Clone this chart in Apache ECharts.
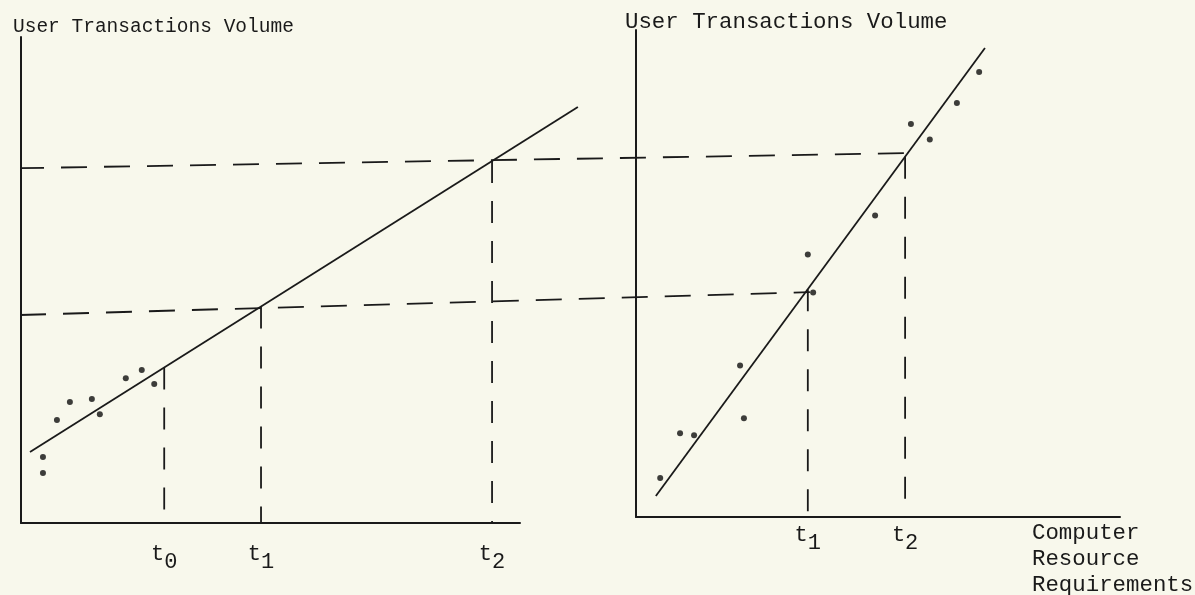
<!DOCTYPE html>
<html>
<head>
<meta charset="utf-8">
<title>User Transactions Volume vs Computer Resource Requirements</title>
<script src="https://cdn.jsdelivr.net/npm/echarts@6/dist/echarts.min.js"></script>
<style>
  html, body { margin: 0; padding: 0; background: #f8f8ec; }
  #chart { width: 1195px; height: 595px; }
</style>
</head>
<body>
<div id="chart"></div>
<script>
// Left panel: transactions volume over time (abstract units, 0-100 on the drawn axes)
const leftFitLine = [[1.8, 14.6], [111.6, 85.6]];
const leftObservations = [
  [4.4, 13.6], [4.4, 10.3], [7.2, 21.2], [9.8, 24.9], [14.2, 25.5],
  [15.8, 22.4], [21.0, 29.8], [24.2, 31.5], [26.7, 28.6]
];
const leftTimes = [28.7, 48.1, 94.4];
const leftTimeSubs = ['0', '1', '2'];

// Right panel: transactions volume vs computer resource requirements
const rightFitLine = [[4.1, 4.3], [72.1, 96.3]];
const rightObservations = [
  [5.0, 8.0], [9.1, 17.2], [12.0, 16.8], [21.5, 31.1], [22.3, 20.3],
  [35.5, 53.9], [36.6, 46.1], [49.4, 61.9], [56.8, 80.7], [60.7, 77.5],
  [66.3, 85.0], [70.9, 91.4]
];
const rightTimes = [35.5, 55.6];
const rightTimeSubs = ['1', '2'];

// Projection guides carried from the left panel across to the right one (left-panel units)
const upperGuide = [[-0.6, 73.0], [177.2, 76.1]];
const lowerGuide = [[-0.2, 42.8], [158.1, 47.5]];

const INK = '#1a1a1a';
const FONT = '"Liberation Mono", "DejaVu Sans Mono", monospace';
const DASH_H = [26, 17];
const DASH_V = [22, 18];

// Left panel geometry: the overlay grid shares its scale so long lines can run past the axis end
const LEFT_X0 = 21, LEFT_TOP = 37, LEFT_H = 486, LEFT_W = 499;
const OVERLAY_W = 1099;
const OVERLAY_MAX = 100 * OVERLAY_W / LEFT_W;

function fitAt(line, x) {
  const [[x0, y0], [x1, y1]] = line;
  return y0 + (y1 - y0) * (x - x0) / (x1 - x0);
}

function subLabel(times, subs) {
  return function (v) {
    let best = 0;
    times.forEach((t, i) => { if (Math.abs(t - v) < Math.abs(times[best] - v)) best = i; });
    return '{t|t}{s|' + subs[best] + '}';
  };
}

const labelRich = {
  t: { fontFamily: FONT, fontSize: 22, color: INK, verticalAlign: 'top', lineHeight: 30 },
  s: { fontFamily: FONT, fontSize: 22, color: INK, verticalAlign: 'bottom', lineHeight: 30, padding: [12, 0, 0, 0] }
};

function makeX(gridIndex, times, subs, margin) {
  return {
    type: 'value', gridIndex, min: 0, max: 100,
    axisLine: { show: true, onZero: false, lineStyle: { color: INK, width: 2 } },
    axisTick: { show: false },
    splitLine: { show: false },
    axisLabel: {
      show: true, customValues: times, margin,
      formatter: subLabel(times, subs), rich: labelRich
    }
  };
}

function makeY(gridIndex) {
  return {
    type: 'value', gridIndex, min: 0, max: 100,
    axisLine: { show: true, onZero: false, lineStyle: { color: INK, width: 2 } },
    axisTick: { show: false },
    axisLabel: { show: false },
    splitLine: { show: false }
  };
}

function hiddenAxis(gridIndex, max) {
  return {
    type: 'value', gridIndex, min: 0, max,
    show: false, axisLine: { show: false }, splitLine: { show: false }
  };
}

function solid(data, idx) {
  return {
    type: 'line', data, xAxisIndex: idx, yAxisIndex: idx, symbol: 'none',
    clip: false, silent: true, animation: false,
    lineStyle: { color: INK, width: 1.8 }
  };
}

function dashed(data, idx, dash) {
  return {
    type: 'line', data, xAxisIndex: idx, yAxisIndex: idx, symbol: 'none',
    clip: false, silent: true, animation: false,
    lineStyle: { color: INK, width: 1.8, type: dash }
  };
}

function dots(data, idx) {
  return {
    type: 'scatter', data, xAxisIndex: idx, yAxisIndex: idx,
    symbol: 'circle', symbolSize: 6, silent: true, animation: false,
    itemStyle: { color: '#0e0e0e' }
  };
}

const series = [
  solid(leftFitLine, 2),
  dots(leftObservations, 0),
  dashed(upperGuide, 2, DASH_H),
  dashed(lowerGuide, 2, DASH_H),
  solid(rightFitLine, 1),
  dots(rightObservations, 1)
];
leftTimes.forEach(t => series.push(dashed([[t, fitAt(leftFitLine, t)], [t, 0]], 0, DASH_V)));
rightTimes.forEach(t => series.push(dashed([[t, fitAt(rightFitLine, t)], [t, 0]], 1, DASH_V)));

const chart = echarts.init(document.getElementById('chart'), null, { renderer: 'canvas' });
chart.setOption({
  backgroundColor: '#f8f8ec',
  animation: false,
  title: [
    { text: 'User Transactions Volume', left: 8, top: 12,
      textStyle: { fontFamily: FONT, fontSize: 19.5, fontWeight: 'normal', color: INK } },
    { text: 'User Transactions Volume', left: 620, top: 6,
      textStyle: { fontFamily: FONT, fontSize: 22.4, fontWeight: 'normal', color: INK } },
    { text: 'Computer\nResource\nRequirements', left: 1027, top: 515,
      textStyle: { fontFamily: FONT, fontSize: 22.4, fontWeight: 'normal', color: INK, lineHeight: 26 } }
  ],
  grid: [
    { left: LEFT_X0, top: LEFT_TOP, width: LEFT_W, height: LEFT_H },
    { left: 636, top: 30, width: 484, height: 487 },
    { left: LEFT_X0, top: LEFT_TOP, width: OVERLAY_W, height: LEFT_H }
  ],
  xAxis: [
    makeX(0, leftTimes, leftTimeSubs, 20),
    makeX(1, rightTimes, rightTimeSubs, 7),
    hiddenAxis(2, OVERLAY_MAX)
  ],
  yAxis: [makeY(0), makeY(1), hiddenAxis(2, 100)],
  series
});
</script>
</body>
</html>
